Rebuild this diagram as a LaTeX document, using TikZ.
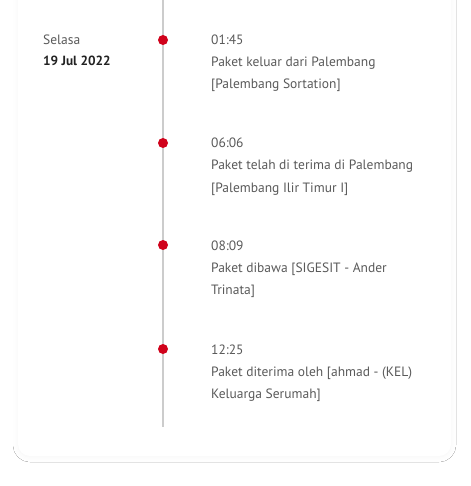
\documentclass[tikz,border=0pt]{standalone}
\usepackage{fontspec}
\setmainfont{PT Sans}
\usetikzlibrary{shadows.blur}
\definecolor{txt}{HTML}{5A5A5A}
\definecolor{dark}{HTML}{222222}
\definecolor{reddot}{HTML}{D0021B}
\definecolor{tline}{HTML}{CCCCCC}
\tikzset{
  card/.style={fill=white, rounded corners=12pt, blur shadow={shadow xshift=0pt, shadow yshift=-1pt, shadow blur radius=5pt, shadow opacity=4}},
  dot/.style={circle, fill=reddot, inner sep=0pt, minimum size=10pt},
  ev/.style={anchor=base west, inner sep=0pt, text=txt, font=\fontsize{13.5}{22}\selectfont, align=left},
  datelbl/.style={anchor=base west, inner sep=0pt, text=txt, font=\fontsize{13.5}{22}\selectfont},
  datebold/.style={anchor=base west, inner sep=0pt, text=dark, font=\fontsize{13.3}{22}\selectfont\bfseries},
}
\begin{document}
\begin{tikzpicture}[x=1pt,y=-1pt]
\useasboundingbox[fill=white] (0,0) rectangle (470,486);
\begin{scope}
\clip (0,0) rectangle (470,486);
\fill[card] (18,-30) rectangle (451,456);
\end{scope}
\coordinate (ltop) at (163,0);
\coordinate (lbot) at (163,427);
\draw[tline, line width=2pt] (ltop) -- (lbot);
\node[datelbl] (day) at (43,45) {Selasa};
\node[datebold] (date) at (43,66) {19 Jul 2022};
\node[dot] (d1) at (163,40) {};
\node[dot] (d2) at (163,143) {};
\node[dot] (d3) at (163,245) {};
\node[dot] (d4) at (163,349) {};
\node[ev] (e1) at (211,89) {01:45\\Paket keluar dari Palembang\\{[}Palembang Sortation{]}};
\node[ev] (e2) at (211,192) {06:06\\Paket telah di terima di Palembang\\{[}Palembang Ilir Timur I{]}};
\node[ev] (e3) at (211,294) {08:09\\Paket dibawa {[}SIGESIT - Ander\\Trinata{]}};
\node[ev] (e4) at (211,398) {12:25\\Paket diterima oleh {[}ahmad - (KEL)\\Keluarga Serumah{]}};
\end{tikzpicture}
\end{document}
